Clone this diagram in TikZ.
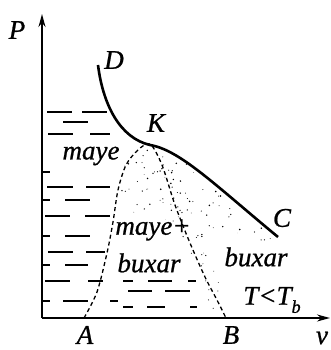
\documentclass[tikz,border=0pt]{standalone}
\usepackage{fontspec}
\setmainfont{Liberation Serif}[ItalicFeatures={FakeBold=0.8}]
\usetikzlibrary{arrows.meta}
\begin{document}
\begin{tikzpicture}[x=1pt,y=-1pt,
  lbl/.style={font=\fontsize{27}{29}\selectfont\itshape, inner sep=0pt},
  axisline/.style={line width=1.6pt,-{Stealth[length=13pt,width=7pt]}},
  mcurve/.style={line width=2.6pt},
  liq/.style={line width=1.4pt},
  dome/.style={line width=1.3pt, dash pattern=on 4pt off 3pt}]
\useasboundingbox (0,0) rectangle (330,350);
% axes
\coordinate (O) at (42,318);
\coordinate (Ptop) at (42,14);
\coordinate (Vend) at (330,318);
\draw[axisline] (O) -- (Ptop);
\draw[axisline] (O) -- (Vend);
% speckles
\begin{scope}
\clip (150,145) .. controls (180,150) and (215,185) .. (278,237)
  -- (260,242) -- (225,228) -- (205,228) -- (215,270) -- (228,316) -- (210,316)
  -- (195,262) -- (178,230) -- (160,215) -- (130,212) -- (118,190) -- (125,165) -- cycle;
\pgfmathsetseed{12345}
\foreach \i in {1,...,300}{
  \pgfmathsetmacro\xx{115+165*rnd}
  \pgfmathsetmacro\yy{140+180*rnd}
  \pgfmathsetmacro\rr{0.35+0.5*rnd}
  \fill (\xx,\yy) circle[radius=\rr pt];
}
\end{scope}
% main curve D-K-C
\coordinate (D0) at (98,65);
\coordinate (Kp) at (150,145);
\coordinate (Cp) at (278,237);
\draw[mcurve] (D0) .. controls (103,105) and (120,138) .. (Kp)
  .. controls (180,150) and (215,185) .. (Cp);
% dome
\draw[dome] plot[smooth] coordinates {(84,318) (97,292) (107,253) (113,222) (118,190)
  (126,165) (138,150) (150,144) (162,165) (175,205) (190,243) (205,277) (217,300) (226,318)};
% liquid dashes
\foreach \a/\b/\y in {47/72/112, 82/107/112, 63/88/122, 48/73/134, 90/110/134,
  42/50/172, 47/73/187, 86/110/187, 42/50/200, 65/90/200, 45/70/216, 85/110/216,
  42/50/236, 65/90/236, 48/73/252, 86/105/252, 42/50/265, 65/88/265,
  45/70/281, 88/103/281, 42/50/301, 63/88/301,
  123/133/281, 148/172/281, 188/196/281, 128/152/291, 165/190/291,
  110/118/301, 123/133/307, 147/165/307, 190/197/307}{
  \draw[liq] (\a,\y) -- (\b,\y);
}
% labels
\node[lbl] (P) at (17,30) {P};
\node[lbl] (D) at (114,60) {D};
\node[lbl] (K) at (156,123) {K};
\node[lbl] (C) at (282,218) {C};
\node[lbl] (A) at (85,335) {A};
\node[lbl] (B) at (231,335) {B};
\node[lbl] (v) at (322,338) {v};
\node[lbl] (maye) at (91,156) {maye};
\node[lbl] (mayep) at (153,230) {maye+};
\node[lbl] (buxar1) at (149,263) {buxar};
\node[lbl] (buxar2) at (256,257) {buxar};
\node[lbl] (T) at (272,300) {T<T\raisebox{-0.3em}{\fontsize{18}{18}\selectfont b}};
\end{tikzpicture}
\end{document}
